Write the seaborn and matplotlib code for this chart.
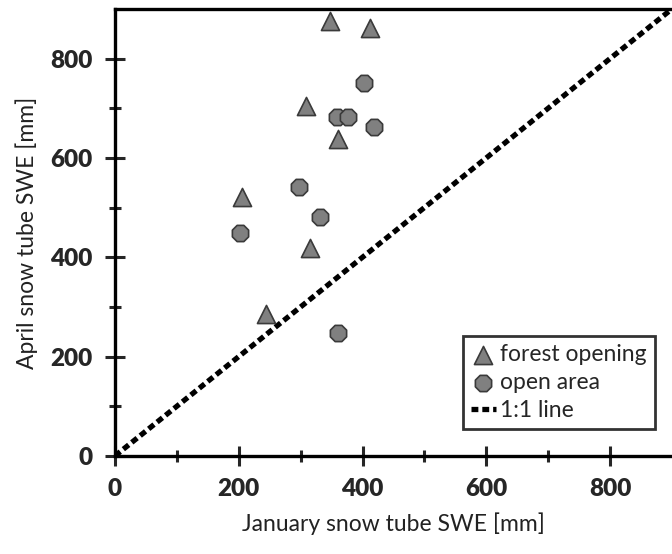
import pandas as pd
import matplotlib.pyplot as plt
import seaborn as sns

# values
forest_jan = [348, 412, 309, 361, 205, 315, 244]
forest_apr = [876, 862, 705, 638, 522, 418, 286]
open_jan = [403, 359, 377, 419, 298, 331, 202, 361]
open_apr = [751, 682, 682, 662, 541, 481, 448, 248]
line_x = [0, 900]
line_y = [0, 900]

forest = pd.DataFrame({'jan': forest_jan, 'apr': forest_apr})
open_area = pd.DataFrame({'jan': open_jan, 'apr': open_apr})
one_to_one = pd.DataFrame({'jan': line_x, 'apr': line_y})

sns.set_style('white')
plt.rcParams['font.family'] = ['Lato', 'DejaVu Sans']

fig = plt.figure(figsize=(6.72, 5.54), dpi=100)
ax = fig.add_axes([0.171, 0.177, 0.829, 0.807])

sns.lineplot(data=one_to_one, x='jan', y='apr', ax=ax, color='black',
             lw=3.8, dashes=False, label='1:1 line', zorder=2)
ax.lines[-1].set_dashes((1.3, 0.75))
sns.scatterplot(data=forest, x='jan', y='apr', ax=ax, marker='^', s=170,
                color='#808080', edgecolor='#3a3a3a', linewidth=1.2,
                label='forest opening', zorder=3)
sns.scatterplot(data=open_area, x='jan', y='apr', ax=ax, marker='8', s=160,
                color='#808080', edgecolor='#3a3a3a', linewidth=1.2,
                label='open area', zorder=3)

ax.set_xlim(0, 900)
ax.set_ylim(0, 900)
ax.set_xticks([0, 200, 400, 600, 800])
ax.set_yticks([0, 200, 400, 600, 800])
ax.set_xticks(range(100, 900, 200), minor=True)
ax.set_yticks(range(100, 900, 200), minor=True)
ax.tick_params(which='major', direction='inout', length=14, width=2.2,
               labelsize=17.5, pad=9, left=True, bottom=True)
ax.tick_params(which='minor', direction='inout', length=8, width=2.2,
               left=True, bottom=True)
for lab in ax.get_xticklabels() + ax.get_yticklabels():
    lab.set_fontweight('heavy')

for side in ['left', 'bottom', 'top']:
    ax.spines[side].set_linewidth(2.4)
    ax.spines[side].set_color('black')
ax.spines['right'].set_visible(False)

ax.set_xlabel('January snow tube SWE [mm]', fontsize=16.5, labelpad=9,
              color='#222222')
ax.set_ylabel('April snow tube SWE [mm]', fontsize=16.5, labelpad=9,
              color='#222222')

handles, labels = ax.get_legend_handles_labels()
order = [labels.index(l) for l in ['forest opening', 'open area', '1:1 line']]
leg = ax.legend([handles[i] for i in order], [labels[i] for i in order],
                loc='lower right', bbox_to_anchor=(0.99, 0.035), fontsize=16.5,
                frameon=True, fancybox=False, edgecolor='black',
                handlelength=1.1, handletextpad=0.2, labelspacing=0.3,
                borderpad=0.35)
leg.get_frame().set_linewidth(2)

fig.savefig('out.png', dpi=100, facecolor='white')
